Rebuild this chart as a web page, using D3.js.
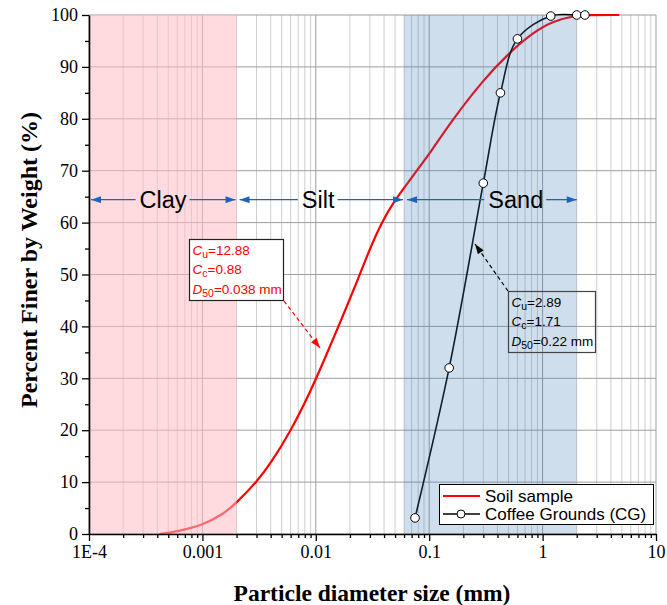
<!DOCTYPE html>
<html>
<head>
<meta charset="utf-8">
<script src="https://cdn.jsdelivr.net/npm/d3@7"></script>
<style>
  body { margin: 0; background: #fff; }
  svg { display: block; }
</style>
</head>
<body>
<div id="chart-container"></div>
<script>
// soil sample gradation curve
const soilSize = [0.00042, 0.0006, 0.001, 0.0015, 0.002, 0.003, 0.004, 0.006, 0.009, 0.012,
  0.016, 0.024, 0.03, 0.038, 0.048, 0.063, 0.08, 0.1, 0.16, 0.3, 0.5, 0.82, 1.23, 1.85, 2.5, 4.75];
const soilFiner = [0, 0.5, 1.7, 3.7, 6.0, 10.0, 13.6, 19.8, 27.5, 33.8,
  40.2, 49.5, 55, 60, 63.8, 67.3, 70.4, 73.2, 79.8, 87.5, 92.6, 96.6, 98.8, 99.8, 100, 100];

// coffee grounds sieve results
const cgSize = [0.075, 0.15, 0.3, 0.425, 0.6, 1.18, 2.0, 2.36];
const cgFiner = [3.1, 32, 67.6, 85, 95.4, 99.8, 100, 100];

const xTickValues = [1e-4, 1e-3, 0.01, 0.1, 1, 10];
const xTickLabels = ["1E-4", "0.001", "0.01", "0.1", "1", "10"];
const yTickValues = [0, 10, 20, 30, 40, 50, 60, 70, 80, 90, 100];

// soil classes
const zoneNames = ["Clay", "Silt", "Sand"];
const zoneFrom = [1e-4, 0.002, 0.06];
const zoneTo = [0.002, 0.06, 2];
const zoneLabelAt = [0.00045, 0.0105, 0.58];
const zoneLevel = 65;

const soilStats = ["12.88", "0.88", "0.038 mm"];
const cgStats = ["2.89", "1.71", "0.22 mm"];

const margin = { top: 15, right: 11, bottom: 71, left: 89 };
const width = 667 - margin.left - margin.right;
const height = 605 - margin.top - margin.bottom;

const svg = d3
  .select("#chart-container")
  .append("svg")
  .attr("width", 667)
  .attr("height", 605);

const chart = svg.append("g").attr("transform", `translate(${margin.left},${margin.top})`);

const x = d3.scaleLog().domain([1e-4, 10]).range([0, width]);
const y = d3.scaleLinear().domain([0, 100]).range([height, 0]);

const minorX = [];
xTickValues.slice(0, -1).forEach((d) => {
  for (let k = 2; k <= 9; k++) minorX.push(d * k);
});
const minorY = d3.range(5, 100, 10);

const sans = "'Liberation Sans', Arial, sans-serif";
const serif = "'Liberation Serif', 'Times New Roman', serif";

// arrow markers
const defs = svg.append("defs");
[["blue", "#1f63b8"], ["red", "#ff0000"], ["black", "#000"]].forEach(([id, c]) => {
  defs.append("marker")
    .attr("id", "arrow-" + id)
    .attr("markerUnits", "userSpaceOnUse")
    .attr("viewBox", "0 0 10 7")
    .attr("refX", 10)
    .attr("refY", 3.5)
    .attr("markerWidth", 11)
    .attr("markerHeight", 7)
    .attr("orient", "auto-start-reverse")
    .append("path")
    .attr("d", "M0,0 L10,3.5 L0,7 Z")
    .attr("fill", c);
});

// grid
const grid = chart.append("g");
grid.selectAll(".minor-x")
  .data(minorX)
  .join("line")
  .attr("x1", (d) => x(d)).attr("x2", (d) => x(d))
  .attr("y1", 0).attr("y2", height)
  .attr("stroke", "#cfcfcf").attr("stroke-width", 1);
grid.selectAll(".major-x")
  .data(xTickValues)
  .join("line")
  .attr("x1", (d) => x(d)).attr("x2", (d) => x(d))
  .attr("y1", 0).attr("y2", height)
  .attr("stroke", "#9e9e9e").attr("stroke-width", 1);
grid.selectAll(".major-y")
  .data(yTickValues)
  .join("line")
  .attr("x1", 0).attr("x2", width)
  .attr("y1", (d) => y(d)).attr("y2", (d) => y(d))
  .attr("stroke", "#9e9e9e").attr("stroke-width", 1);

// curves
const soil = soilSize.map((d, i) => [d, soilFiner[i]]);
const cg = cgSize.map((d, i) => [d, cgFiner[i]]);

const line = d3.line()
  .x((d) => x(d[0]))
  .y((d) => y(d[1]));

chart.append("path")
  .datum(soil)
  .attr("fill", "none")
  .attr("stroke", "#ff0000")
  .attr("stroke-width", 2.2)
  .attr("d", line.curve(d3.curveBasis));

chart.append("path")
  .datum(cg)
  .attr("fill", "none")
  .attr("stroke", "#000")
  .attr("stroke-width", 1.6)
  .attr("d", line.curve(d3.curveCatmullRom));

// shaded soil classes, drawn over the curves
chart.append("rect")
  .attr("x", x(zoneFrom[0])).attr("y", 0)
  .attr("width", x(zoneTo[0]) - x(zoneFrom[0])).attr("height", height)
  .attr("fill", "rgb(255,190,197)").attr("fill-opacity", 0.55);
chart.append("rect")
  .attr("x", x(zoneFrom[2])).attr("y", 0)
  .attr("width", x(zoneTo[2]) - x(zoneFrom[2])).attr("height", height)
  .attr("fill", "rgb(63,123,183)").attr("fill-opacity", 0.25);

// coffee grounds markers
chart.selectAll(".cg-pt")
  .data(cg)
  .join("circle")
  .attr("cx", (d) => x(d[0]))
  .attr("cy", (d) => y(d[1]))
  .attr("r", 4.3)
  .attr("fill", "#fff")
  .attr("stroke", "#000")
  .attr("stroke-width", 1);

// class arrows with labels
zoneNames.forEach((name, i) => {
  const x0 = x(zoneFrom[i]) + (i === 0 ? 2 : 3);
  const x1 = x(zoneTo[i]) - (i === 2 ? 0 : 1);
  const yy = y(zoneLevel) + 3;
  const lx = x(zoneLabelAt[i]);
  const label = chart.append("text")
    .attr("x", lx)
    .attr("y", yy + 8)
    .attr("text-anchor", "middle")
    .attr("font-family", sans)
    .attr("font-size", 23.5)
    .attr("fill", "#000")
    .text(name);
  const w = label.node().getComputedTextLength();
  chart.append("line")
    .attr("x1", lx - w / 2 - 4).attr("x2", x0)
    .attr("y1", yy).attr("y2", yy)
    .attr("stroke", "#1f63b8").attr("stroke-width", 1.3)
    .attr("marker-end", "url(#arrow-blue)");
  chart.append("line")
    .attr("x1", lx + w / 2 + 3).attr("x2", x1)
    .attr("y1", yy).attr("y2", yy)
    .attr("stroke", "#1f63b8").attr("stroke-width", 1.3)
    .attr("marker-end", "url(#arrow-blue)");
});

// coefficient boxes
function statBox(bx, by, bw, bh, stats, color, fill, border) {
  const g = svg.append("g");
  g.append("rect")
    .attr("x", bx).attr("y", by).attr("width", bw).attr("height", bh)
    .attr("fill", fill).attr("stroke", border).attr("stroke-width", 1.2);
  const subs = ["u", "c", "50"];
  const mains = ["C", "C", "D"];
  stats.forEach((v, i) => {
    const t = g.append("text")
      .attr("x", bx + 3)
      .attr("y", by + 15 + i * 19.5)
      .attr("font-family", sans)
      .attr("font-size", 13.5)
      .attr("fill", color);
    t.append("tspan").attr("font-style", "italic").text(mains[i]);
    t.append("tspan").attr("font-size", 10.5).attr("dy", 3).text(subs[i]);
    t.append("tspan").attr("dy", -3).text("=" + v);
  });
}

svg.append("line")
  .attr("x1", 284).attr("y1", 301).attr("x2", 320).attr("y2", 348)
  .attr("stroke", "#ff0000").attr("stroke-width", 1.2)
  .attr("stroke-dasharray", "4,3")
  .attr("marker-end", "url(#arrow-red)");
statBox(189.5, 239.5, 94, 61, soilStats, "#ff0000", "#fff", "#222");

svg.append("line")
  .attr("x1", 508).attr("y1", 291).attr("x2", 475).attr("y2", 244)
  .attr("stroke", "#000").attr("stroke-width", 1.2)
  .attr("stroke-dasharray", "4,3")
  .attr("marker-end", "url(#arrow-black)");
statBox(508.5, 291.5, 87, 61, cgStats, "#000", "none", "#444");

// legend
const legend = svg.append("g");
legend.append("rect")
  .attr("x", 439.5).attr("y", 484.5).attr("width", 214).attr("height", 40)
  .attr("fill", "#fff").attr("stroke", "#000").attr("stroke-width", 1);
legend.append("line")
  .attr("x1", 443).attr("x2", 480).attr("y1", 496).attr("y2", 496)
  .attr("stroke", "#ff0000").attr("stroke-width", 2.2);
legend.append("line")
  .attr("x1", 443).attr("x2", 480).attr("y1", 514).attr("y2", 514)
  .attr("stroke", "#000").attr("stroke-width", 1.4);
legend.append("circle")
  .attr("cx", 461).attr("cy", 514).attr("r", 4)
  .attr("fill", "#fff").attr("stroke", "#000");
legend.selectAll("text")
  .data(["Soil sample", "Coffee Grounds (CG)"])
  .join("text")
  .attr("x", 485)
  .attr("y", (d, i) => 502 + i * 18)
  .attr("font-family", sans)
  .attr("font-size", 17)
  .text((d) => d);

// axes
chart.append("g")
  .call(d3.axisLeft(y).tickValues(yTickValues).tickSize(7).tickSizeOuter(0).tickPadding(4));
chart.append("g")
  .call(d3.axisLeft(y).tickValues(minorY).tickSize(4).tickFormat(""))
  .select(".domain").remove();

chart.append("g")
  .attr("transform", `translate(0,${height})`)
  .call(d3.axisBottom(x).tickValues(xTickValues).tickFormat((d, i) => xTickLabels[i])
    .tickSize(7).tickSizeOuter(0).tickPadding(4));
chart.append("g")
  .attr("transform", `translate(0,${height})`)
  .call(d3.axisBottom(x).tickValues(minorX).tickSize(4).tickFormat(""))
  .select(".domain").remove();

chart.selectAll(".domain").attr("stroke", "#000").attr("stroke-width", 1.6);
chart.selectAll(".tick line").attr("stroke", "#000").attr("stroke-width", 1.3);
chart.selectAll(".tick text")
  .attr("font-family", serif)
  .attr("font-size", 18)
  .attr("fill", "#000");

// axis titles
svg.append("text")
  .attr("transform", "translate(37,260) rotate(-90)")
  .attr("text-anchor", "middle")
  .attr("font-family", serif)
  .attr("font-weight", "bold")
  .attr("font-size", 24)
  .text("Percent Finer by Weight (%)");

svg.append("text")
  .attr("x", 372)
  .attr("y", 601)
  .attr("text-anchor", "middle")
  .attr("font-family", serif)
  .attr("font-weight", "bold")
  .attr("font-size", 23.5)
  .text("Particle diameter size (mm)");
</script>
</body>
</html>
